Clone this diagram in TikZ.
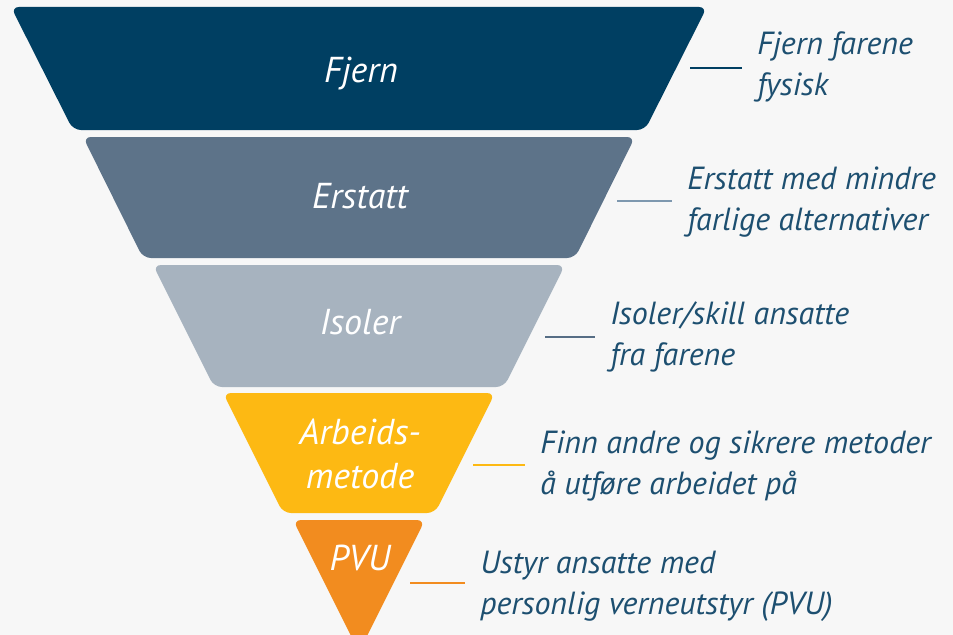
\documentclass[tikz,border=0pt]{standalone}
\usepackage{fontspec}
\setmainfont{PT Sans}
\definecolor{navy}{HTML}{003F62}
\definecolor{slate}{HTML}{5D7389}
\definecolor{steel}{HTML}{A7B3BF}
\definecolor{sun}{HTML}{FDB913}
\definecolor{tang}{HTML}{F28C1F}
\definecolor{paper}{HTML}{F7F7F7}
\definecolor{ink}{HTML}{1D4F70}
\definecolor{slatelink}{HTML}{7E98AF}
\definecolor{steellink}{HTML}{566D85}

\begin{document}
\begin{tikzpicture}[x=0.75pt,y=-0.75pt,
    band/.style={rounded corners=6pt},
    lbl/.style={text=white,align=center,inner sep=0pt,
      font=\fontsize{27}{33}\selectfont\itshape},
    desc/.style={anchor=west,inner sep=0pt,text=ink,align=left,
      font=\fontsize{24}{31}\selectfont\itshape},
    lnk/.style={line width=2.2pt,shorten >=11.25pt}]
  \useasboundingbox (0,0) rectangle (953,635);
  \clip (0,0) rectangle (953,635);
  \fill[paper] (0,0) rectangle (953,635);

  % the funnel
  \fill[navy,band]  (11,7)--(707,7)--(645,130)--(73,130)--cycle;
  \fill[slate,band] (83,137)--(635,137)--(575,258)--(143,258)--cycle;
  \fill[steel,band] (153,265)--(565,265)--(504,387)--(214,387)--cycle;
  \fill[sun,band]   (223,393)--(495,393)--(435,513)--(283,513)--cycle;
  \fill[tang,band]  (293,520)--(425,520)--(359,652)--cycle;

  \node[lbl] (fjern)   at (361,74)  {Fjern};
  \node[lbl] (erstatt) at (360,196) {Erstatt};
  \node[lbl] (isoler)  at (360,322) {Isoler};
  \node[lbl] (metode)  at (360,454) {Arbeids-\\metode};
  \node[lbl] (pvu)     at (360,558) {PVU};

  % descriptions
  \coordinate (c1) at (690,68);
  \coordinate (c2) at (617,201);
  \coordinate (c3) at (545,337);
  \coordinate (c4) at (473,465);
  \coordinate (c5) at (410,583);

  \node[desc] (fjernTxt)   at (757,67)  {Fjern farene\\fysisk};
  \node[desc] (erstattTxt) at (687,202) {Erstatt med mindre\\farlige alternativer};
  \node[desc] (isolerTxt)  at (610,337) {Isoler/skill ansatte\\fra farene};
  \node[desc] (metodeTxt)  at (540,466) {Finn andre og sikrere metoder\\å utføre arbeidet på};
  \node[desc] (pvuTxt)     at (480,586) {Ustyr ansatte med\\personlig verneutstyr (PVU)};

  \draw[lnk,navy]      (c1) -- (c1 -| fjernTxt.west);
  \draw[lnk,slatelink] (c2) -- (c2 -| erstattTxt.west);
  \draw[lnk,steellink] (c3) -- (c3 -| isolerTxt.west);
  \draw[lnk,sun]       (c4) -- (c4 -| metodeTxt.west);
  \draw[lnk,tang]      (c5) -- (c5 -| pvuTxt.west);
\end{tikzpicture}
\end{document}
